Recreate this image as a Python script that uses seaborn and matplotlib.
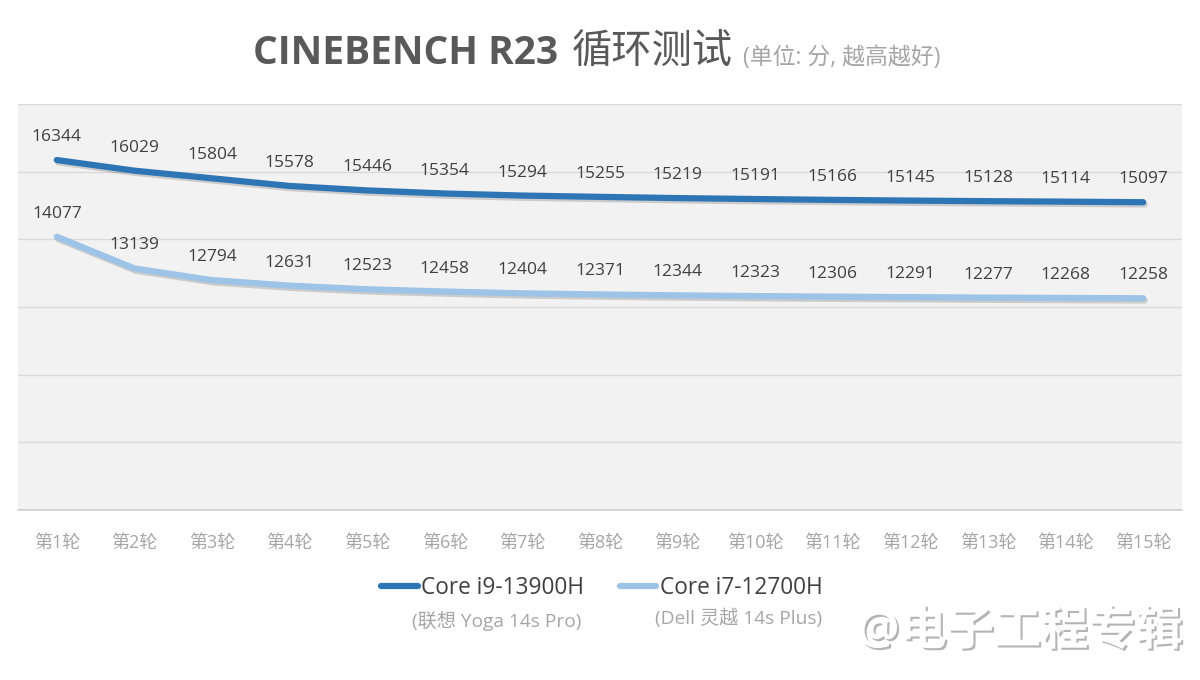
import matplotlib
matplotlib.use("Agg")
import numpy as np
import pandas as pd
import seaborn as sns
import matplotlib.pyplot as plt
import matplotlib.patheffects as pe
from matplotlib.lines import Line2D

# ---------------- data ----------------
rounds = ["第1轮", "第2轮", "第3轮", "第4轮", "第5轮", "第6轮", "第7轮", "第8轮",
          "第9轮", "第10轮", "第11轮", "第12轮", "第13轮", "第14轮", "第15轮"]
i9_scores = [16344, 16029, 15804, 15578, 15446, 15354, 15294, 15255,
             15219, 15191, 15166, 15145, 15128, 15114, 15097]
i7_scores = [14077, 13139, 12794, 12631, 12523, 12458, 12404, 12371,
             12344, 12323, 12306, 12291, 12277, 12268, 12258]
series_names = ["Core i9-13900H", "Core i7-12700H"]
series_subs = ["(联想 Yoga 14s Pro)", "(Dell 灵越 14s Plus)"]
series_colors = ["#2E75B6", "#9DC3E6"]
title_bold = "CINEBENCH R23"
title_cjk = "循环测试"
title_sub = "(单位: 分, 越高越好)"
watermark = "@电子工程专辑"

# ---------------- style ----------------
sns.set_theme(style="white")
plt.rcParams["font.family"] = ["Open Sans", "Noto Sans CJK SC", "DejaVu Sans"]

W, H = 1200, 680
fig = plt.figure(figsize=(W / 100, H / 100), dpi=100)
fig.patch.set_facecolor("white")
ax = fig.add_axes([18 / W, 1 - 510 / H, 1164 / W, 406 / H])
ax.set_facecolor("#F2F2F2")

pos = list(range(len(rounds)))
df = pd.DataFrame({
    "pos": pos * 2,
    "score": i9_scores + i7_scores,
    "cpu": [series_names[0]] * len(rounds) + [series_names[1]] * len(rounds),
})

sns.lineplot(data=df, x="pos", y="score", hue="cpu", hue_order=series_names,
             palette=series_colors, linewidth=4.5, ax=ax, legend=False, sort=False)
for ln in ax.lines:
    ln.set_solid_capstyle("round")
    ln.set_solid_joinstyle("round")
    ln.set_path_effects([pe.SimpleLineShadow(offset=(1.0, -1.6), shadow_color="black", alpha=0.16),
                         pe.Normal()])

# data labels
for vals in (i9_scores, i7_scores):
    for i, v in enumerate(vals):
        ax.annotate(f"{v}", (i, v), xytext=(0, 23), textcoords="offset pixels",
                    ha="center", va="center", fontsize=12.5, color="#404040")

ax.set_xlim(-0.5, len(rounds) - 0.5)
ax.set_ylim(6000, 18000)
ax.set_yticks(np.arange(6000, 18001, 2000))
ax.set_yticklabels([])
ax.yaxis.grid(True, color="#D9D9D9", linewidth=1.0)
ax.xaxis.grid(False)
ax.set_xticks(pos)
ax.set_xticklabels(rounds, fontsize=13, color="#A6A6A6")
ax.tick_params(axis="x", length=0, pad=17)
ax.tick_params(axis="y", length=0)
ax.set_xlabel("")
ax.set_ylabel("")
for s in ("left", "right", "top"):
    ax.spines[s].set_visible(False)
ax.spines["bottom"].set_color("#D0D0D0")
ax.spines["bottom"].set_linewidth(1.2)

# title
fig.canvas.draw()
renderer = fig.canvas.get_renderer()
base_y = 1 - 64 / H
t1 = fig.text(253 / W, base_y, title_bold, fontsize=28, fontweight="bold",
              color="#595959", ha="left", va="baseline")
bb1 = t1.get_window_extent(renderer=renderer)
t2 = fig.text((bb1.x1 + 14) / W, base_y + 1 / H, title_cjk, fontsize=29, fontweight="normal",
              color="#595959", ha="left", va="baseline")
bb2 = t2.get_window_extent(renderer=renderer)
fig.text((bb2.x1 + 10) / W, base_y, title_sub, fontsize=16.5, color="#A6A6A6",
         ha="left", va="baseline")

# legend
handles = [Line2D([0], [0], color=c, lw=4.5, solid_capstyle="round") for c in series_colors]
fig.legend(handles, series_names, loc="center", bbox_to_anchor=(602 / W, 1 - 588 / H),
           ncol=2, frameon=False, fontsize=16.3, handlelength=1.6, handletextpad=0.15,
           columnspacing=1.6, labelcolor="#404040")
fig.text(497 / W, 1 - 621 / H, series_subs[0], fontsize=13.8, color="#A6A6A6",
         ha="center", va="center")
fig.text(739 / W, 1 - 618 / H, series_subs[1], fontsize=13.8, color="#A6A6A6",
         ha="center", va="center")

# watermark
fig.text(1020 / W, 1 - 632 / H, watermark, fontsize=34, fontweight="bold", color="white",
         ha="center", va="center",
         path_effects=[pe.withSimplePatchShadow(offset=(1.5, -1.5), shadow_rgbFace="#777777", alpha=0.55)])

fig.savefig("out.png", dpi=100, facecolor="white")
